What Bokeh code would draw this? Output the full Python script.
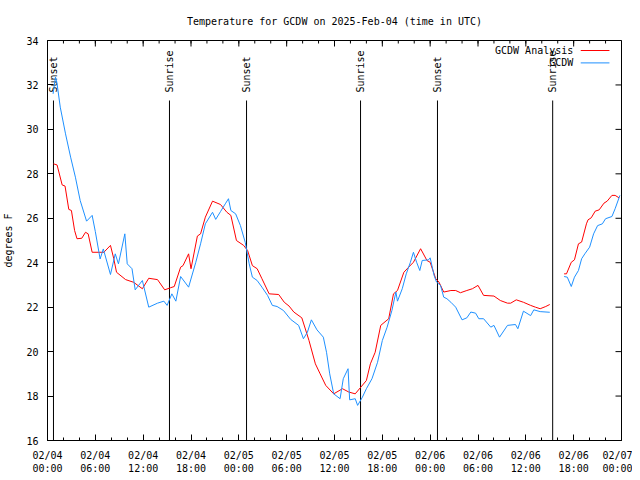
import math
import numpy as np
import pandas as pd
from bokeh.plotting import figure
from bokeh.models import (FixedTicker, DatetimeTickFormatter, Range1d, ColumnDataSource, Label)
from bokeh.core.properties import value
from bokeh.embed import file_html
from bokeh.resources import INLINE

# ---------------- data (hours after 2025-02-04 00:00 UTC) ----------------
START = pd.Timestamp("2025-02-04 00:00")
END = pd.Timestamp("2025-02-07 00:00")
NAN = float("nan")

analysis_hours = [0.75, 1.2, 1.84, 2.2, 2.67, 3.0, 3.4, 3.7, 4.3, 4.77, 5.1, 5.6, 7.07, 7.9, 8.3, 8.66,
                  9.8, 10.8, 11.9, 12.7, 13.8, 14.7, 15.4, 15.9, 16.7, 17.0, 17.7, 18.0, 18.8, 19.2,
                  19.8, 20.7, 21.7, 22.5, 23.0, 23.7, 24.6, 25.1, 25.7, 26.3, 26.9, 27.8, 29.0, 29.7,
                  30.3, 30.9, 31.9, 32.8, 33.6, 34.2, 34.9, 35.9, 37.0, 37.8, 38.6, 39.3, 40.0, 40.5,
                  41.1, 41.8, 42.8, 43.4, 43.9, 44.7, 45.3, 45.9, 46.8, 47.6, 48.0, 48.7, 49.1, 49.7,
                  50.6, 51.2, 51.8, 52.6, 53.3, 54.0, 54.7, 56.0, 56.8, 57.7, 58.1, 58.8, 59.7, 60.6,
                  61.2, 61.8, 62.5, 63.0, 64.0, 64.8, 65.1, 65.7, 66.1, 66.6, 67.0, 67.6, 67.8, 68.2,
                  68.7, 69.2, 69.8, 70.2, 70.8, 71.2, 71.7]
analysis_temp = [28.45, 28.4, 27.5, 27.45, 26.4, 26.35, 25.45, 25.08, 25.1, 25.37, 25.3, 24.47, 24.47,
                 24.78, 24.2, 23.57, 23.24, 23.12, 22.83, 23.3, 23.24, 22.78, 22.87, 22.93, 23.8, 23.87,
                 24.4, 23.73, 25.2, 25.3, 26.05, 26.77, 26.62, 26.27, 26.13, 25.0, 24.78, 24.55, 23.87,
                 23.73, 23.28, 22.6, 22.57, 22.22, 22.05, 21.78, 21.52, 20.5, 19.45, 19.0, 18.48, 18.1,
                 18.33, 18.18, 18.1, 18.4, 18.7, 19.45, 19.97, 21.18, 21.48, 22.6, 22.75, 23.57, 23.8,
                 24.02, 24.63, 24.1, 24.02, 23.28, 23.13, 22.68, 22.75, 22.75, 22.65, 22.75, 22.83,
                 22.98, 22.53, 22.5, 22.3, 22.18, 22.18, 22.33, 22.22, 22.08, 22.0, 21.93, 22.03,
                 22.12, NAN, 23.5, 23.5, 24.02, 24.13, 24.85, 24.93, 25.75, 25.93, 26.02, 26.32,
                 26.38, 26.68, 26.77, 27.03, 27.03, 26.92]

obs_hours = [0.7, 1.0, 1.2, 1.6, 2.26, 2.9, 3.5, 4.1, 4.9, 5.6, 6.0, 6.6, 7.0, 7.9, 8.5, 8.9, 9.7,
             10.0, 10.6, 11.0, 11.9, 12.7, 13.8, 14.6, 15.0, 15.6, 16.1, 16.7, 17.7, 18.6, 19.2,
             19.8, 20.7, 21.1, 21.7, 22.3, 22.7, 23.0, 23.6, 24.2, 24.8, 25.3, 25.7, 26.3, 26.9,
             27.6, 28.2, 28.8, 29.6, 30.5, 31.5, 32.1, 32.6, 33.1, 33.8, 34.6, 35.0, 35.4, 35.9,
             36.7, 37.1, 37.7, 37.9, 38.6, 38.9, 39.5, 40.0, 40.7, 41.4, 42.0, 42.6, 43.2, 43.7,
             43.9, 44.5, 45.0, 45.5, 45.9, 46.3, 46.7, 47.0, 47.8, 48.0, 48.5, 48.8, 49.3, 49.7,
             50.1, 50.6, 51.2, 52.0, 52.6, 53.1, 53.7, 54.1, 54.7, 55.6, 56.0, 56.7, 57.7, 58.7,
             59.0, 59.7, 60.6, 61.0, 61.8, 63.0, 64.0, 64.8, 65.2, 65.7, 66.1, 66.6, 67.0, 67.4,
             68.0, 68.5, 69.0, 69.6, 70.0, 70.8, 71.2, 71.8]
obs_temp = [31.6, 32.35, 32.05, 31.0, 29.8, 28.75, 27.85, 26.8, 25.87, 26.13, 25.4, 24.17, 24.62,
            23.47, 24.4, 23.95, 25.3, 23.95, 23.73, 22.78, 23.2, 22.0, 22.18, 22.27, 22.08, 22.6,
            22.27, 23.38, 22.9, 24.02, 24.85, 25.75, 26.27, 25.95, 26.3, 26.65, 26.88, 26.35, 26.2,
            25.67, 24.92, 23.95, 23.35, 23.2, 22.9, 22.53, 22.08, 22.03, 21.85, 21.45, 21.18, 20.58,
            20.87, 21.43, 20.98, 20.65, 19.97, 19.0, 18.1, 17.88, 18.78, 19.23, 17.83, 17.88, 17.58,
            17.95, 18.33, 18.78, 19.52, 20.5, 21.1, 21.85, 22.68, 22.27, 22.83, 23.5, 24.0, 24.47,
            24.02, 23.65, 24.1, 24.13, 24.22, 23.42, 23.13, 22.98, 22.45, 22.38, 22.22, 22.0, 21.43,
            21.52, 21.78, 21.73, 21.48, 21.48, 21.1, 21.18, 20.65, 21.18, 21.22, 21.03, 21.82,
            21.62, 21.88, 21.8, 21.77, NAN, 23.38, 23.35, 22.93, 23.35, 23.65, 24.18, 24.4, 24.7,
            25.3, 25.67, 25.75, 25.98, 26.08, 26.43, 27.03]

event_times = ["2025-02-04 00:45", "2025-02-04 15:18", "2025-02-05 00:58",
               "2025-02-05 15:16", "2025-02-06 00:55", "2025-02-06 15:22"]
event_names = ["Sunset", "Sunrise", "Sunset", "Sunrise", "Sunset", "Sunrise"]

y_ticks = [16, 18, 20, 22, 24, 26, 28, 30, 32, 34]
series_names = ["GCDW Analysis", "GCDW"]
series_colors = ["#ff0000", "#1e90ff"]

FONT = "DejaVu Sans Mono"
FS = "10px"
FRAME_W, FRAME_H = 574, 400


def to_dt(hours):
    return [START + pd.Timedelta(hours=h) for h in hours]


def ms(ts):
    return pd.Timestamp(ts).value / 1e6


x0, x1 = ms(START), ms(END)
y0, y1 = 16, 34
span_x = x1 - x0
span_y = y1 - y0
px_x = span_x / FRAME_W
px_y = span_y / FRAME_H

p = figure(x_axis_type="datetime", frame_width=FRAME_W, frame_height=FRAME_H,
           x_range=Range1d(x0, x1), y_range=Range1d(y0, y1),
           output_backend="svg", toolbar_location=None,
           min_border_left=42, min_border_right=11, min_border_top=32, min_border_bottom=33,
           background_fill_color="white", border_fill_color="white")
p.grid.visible = False
p.outline_line_color = "black"
p.outline_line_width = 1

p.title.text = "Temperature for GCDW on 2025-Feb-04 (time in UTC)"
p.title.align = "center"
p.title.text_font = FONT
p.title.text_font_size = FS
p.title.text_font_style = "normal"
p.title.text_color = "black"
p.title.standoff = 27

major_hours = list(range(0, 73, 6))
minor_hours = list(range(0, 73, 2))
major_x = [ms(START + pd.Timedelta(hours=h)) for h in major_hours]
minor_x = [ms(START + pd.Timedelta(hours=h)) for h in minor_hours]
xticker = FixedTicker(ticks=major_x, minor_ticks=minor_x)
yticker = FixedTicker(ticks=y_ticks, minor_ticks=[])
fmt = "%m/%d\n%H:%M"
xfmt = DatetimeTickFormatter(hours=fmt, hourmin=fmt, days=fmt, months=fmt, minutes=fmt,
                             minsec=fmt, seconds=fmt, years=fmt)


def style_axis(ax):
    ax.axis_line_color = "black"
    ax.major_tick_line_color = "black"
    ax.minor_tick_line_color = "black"
    ax.major_tick_in = 6
    ax.major_tick_out = 0
    ax.minor_tick_in = 3
    ax.minor_tick_out = 0
    ax.major_label_text_font = FONT
    ax.major_label_text_font_size = FS
    ax.major_label_text_color = "black"


xa = p.xaxis[0]
xa.ticker = xticker
xa.formatter = xfmt
style_axis(xa)
xa.major_label_standoff = 9

ya = p.yaxis[0]
ya.ticker = yticker
style_axis(ya)
ya.major_label_standoff = 9
ya.axis_label = "degrees F"
ya.axis_label_text_font = FONT
ya.axis_label_text_font_size = FS
ya.axis_label_text_font_style = "normal"
ya.axis_label_text_color = "black"
ya.axis_label_standoff = 9

# mirrored ticks on top and right edges (gnuplot style)
top_major = dict(x0=major_x, x1=major_x, y0=[y1] * len(major_x), y1=[y1 - 6 * px_y] * len(major_x))
top_minor = dict(x0=minor_x, x1=minor_x, y0=[y1] * len(minor_x), y1=[y1 - 3 * px_y] * len(minor_x))
right_major = dict(x0=[x1] * len(y_ticks), x1=[x1 - 6 * px_x] * len(y_ticks), y0=y_ticks, y1=y_ticks)
for d in (top_major, top_minor, right_major):
    p.segment(x0="x0", x1="x1", y0="y0", y1="y1", source=ColumnDataSource(d),
              line_color="black", line_width=1)

# sunrise / sunset markers
ev_x = [pd.Timestamp(t) for t in event_times]
ev_src = ColumnDataSource(dict(x=ev_x, name=event_names,
                               y0=[y0] * len(ev_x), y1=[31.3] * len(ev_x),
                               ty=[31.66] * len(ev_x)))
p.segment(x0="x", x1="x", y0="y0", y1="y1", source=ev_src, line_color="black", line_width=1)
p.text(x="x", y="ty", text="name", source=ev_src, angle=math.pi / 2, text_align="left",
       text_baseline="middle", text_font=value(FONT), text_font_size=FS, text_color="black")

# series
series = [(analysis_hours, analysis_temp), (obs_hours, obs_temp)]
for (hrs, temps), col in zip(series, series_colors):
    src = ColumnDataSource(dict(t=to_dt(hrs), v=np.array(temps, dtype=float)))
    p.line("t", "v", source=src, line_color=col, line_width=1)

# legend (gnuplot style: text right-aligned, sample line to the right)
leg_text_x = x0 + 0.916 * span_x
leg_line_x0 = x0 + 0.929 * span_x
leg_line_x1 = x0 + 0.979 * span_x
leg_rows = [y0 + 0.975 * span_y, y0 + 0.944 * span_y]
for name, col, ly in zip(series_names, series_colors, leg_rows):
    p.add_layout(Label(x=leg_text_x, y=ly, text=name, text_align="right", text_baseline="middle",
                       text_font=FONT, text_font_size=FS, text_color="black"))
    p.segment(x0=[leg_line_x0], x1=[leg_line_x1], y0=[ly], y1=[ly], line_color=col, line_width=1)

open("out.html", "w").write(file_html(p, INLINE))
